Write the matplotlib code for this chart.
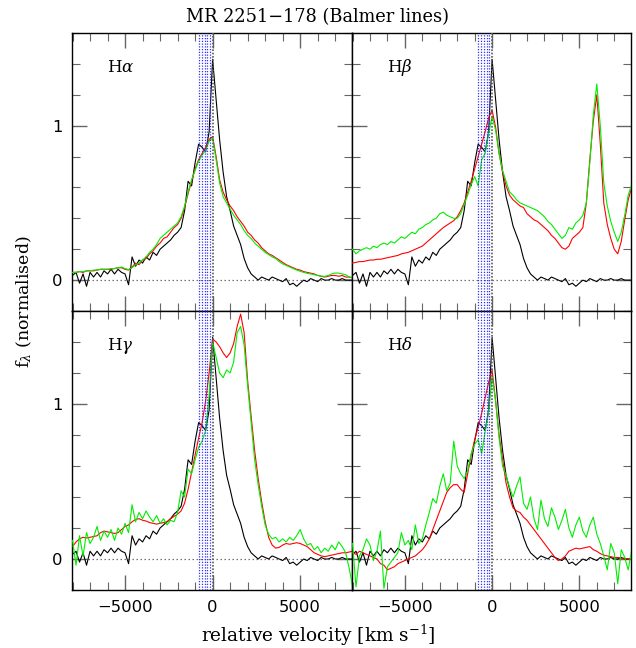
import numpy as np
import matplotlib
matplotlib.use("Agg")
from matplotlib import pyplot as plt
from matplotlib.ticker import MultipleLocator

# velocity grid of the spectra [km/s]
vel = np.arange(-8000, 8001, 200)

# narrow template (same in every panel)
black = [0.03, 0.05, -0.02, 0.04, -0.04, 0.05, 0.02, 0.05, 0.02, 0.06,
         0.04, 0.07, 0.04, 0.07, 0.05, 0.04, -0.03, 0.15, 0.09, 0.13,
         0.11, 0.15, 0.13, 0.18, 0.16, 0.20, 0.22, 0.24, 0.26, 0.29,
         0.31, 0.34, 0.45, 0.64, 0.61, 0.76, 0.88, 0.86, 0.83, 0.96,
         1.43, 1.17, 0.91, 0.70, 0.54, 0.45, 0.35, 0.29, 0.23, 0.14,
         0.08, 0.04, 0.02, 0.00, 0.02, 0.01, 0.00, 0.02, 0.01, 0.00,
         -0.01, 0.01, -0.03, -0.02, -0.04, -0.02, 0.00, -0.01, 0.01, 0.00,
         -0.01, 0.01, 0.00, 0.00, 0.01, 0.00, 0.00, 0.01, 0.00, 0.00,
         0.00]

ha_red = [0.05, 0.05, 0.055, 0.05, 0.06, 0.06, 0.06, 0.065, 0.07, 0.07,
          0.07, 0.07, 0.075, 0.08, 0.08, 0.07, 0.065, 0.085, 0.11, 0.10,
          0.13, 0.14, 0.17, 0.19, 0.22, 0.24, 0.27, 0.28, 0.31, 0.34,
          0.36, 0.40, 0.47, 0.56, 0.64, 0.72, 0.78, 0.82, 0.86, 0.91,
          0.93, 0.80, 0.65, 0.57, 0.52, 0.48, 0.45, 0.41, 0.38, 0.35,
          0.31, 0.29, 0.26, 0.24, 0.21, 0.19, 0.17, 0.16, 0.145, 0.13,
          0.115, 0.10, 0.09, 0.08, 0.07, 0.065, 0.055, 0.05, 0.045, 0.04,
          0.03, 0.025, 0.02, 0.025, 0.03, 0.03, 0.025, 0.03, 0.02, 0.02,
          0.015]
ha_green = [0.05, 0.05, 0.055, 0.055, 0.06, 0.06, 0.065, 0.065, 0.07, 0.07,
            0.07, 0.075, 0.075, 0.08, 0.085, 0.075, 0.068, 0.08, 0.10, 0.11,
            0.13, 0.15, 0.18, 0.20, 0.23, 0.27, 0.29, 0.31, 0.33, 0.35,
            0.37, 0.41, 0.48, 0.57, 0.65, 0.71, 0.77, 0.81, 0.84, 0.90,
            0.92, 0.78, 0.63, 0.54, 0.50, 0.46, 0.42, 0.39, 0.36, 0.32,
            0.29, 0.27, 0.24, 0.22, 0.20, 0.18, 0.165, 0.15, 0.14, 0.12,
            0.105, 0.095, 0.085, 0.075, 0.065, 0.057, 0.05, 0.044, 0.04, 0.035,
            0.03, 0.026, 0.024, 0.03, 0.04, 0.046, 0.045, 0.04, 0.035, 0.02,
            0.015]

hb_red = [0.11, 0.115, 0.12, 0.12, 0.125, 0.13, 0.13, 0.135, 0.135, 0.14,
          0.145, 0.15, 0.155, 0.16, 0.17, 0.175, 0.18, 0.19, 0.20, 0.21,
          0.22, 0.24, 0.26, 0.28, 0.30, 0.32, 0.34, 0.355, 0.37, 0.385,
          0.41, 0.45, 0.50, 0.57, 0.64, 0.72, 0.80, 0.88, 0.96, 1.05,
          1.10, 0.99, 0.82, 0.70, 0.61, 0.55, 0.52, 0.50, 0.48, 0.47,
          0.43, 0.41, 0.39, 0.38, 0.36, 0.34, 0.32, 0.29, 0.27, 0.24,
          0.21, 0.20, 0.22, 0.27, 0.29, 0.31, 0.34, 0.50, 0.78, 1.03,
          1.20, 0.88, 0.50, 0.36, 0.27, 0.20, 0.17, 0.25, 0.39, 0.52,
          0.60]
hb_green = [0.20, 0.17, 0.19, 0.20, 0.21, 0.20, 0.22, 0.21, 0.23, 0.24,
            0.23, 0.25, 0.24, 0.26, 0.28, 0.27, 0.29, 0.31, 0.30, 0.33,
            0.34, 0.36, 0.37, 0.39, 0.40, 0.43, 0.44, 0.42, 0.41, 0.40,
            0.40, 0.43, 0.49, 0.55, 0.62, 0.67, 0.61, 0.78, 0.82, 0.95,
            1.06, 0.97, 0.82, 0.71, 0.64, 0.57, 0.55, 0.52, 0.50, 0.49,
            0.48, 0.47, 0.46, 0.45, 0.43, 0.41, 0.38, 0.36, 0.33, 0.30,
            0.27, 0.29, 0.34, 0.33, 0.37, 0.39, 0.42, 0.50, 0.76, 1.07,
            1.27, 1.00, 0.63, 0.48, 0.38, 0.31, 0.25, 0.31, 0.42, 0.55,
            0.62]

hg_red = [0.08, 0.11, 0.13, 0.14, 0.135, 0.14, 0.145, 0.15, 0.17, 0.18,
          0.175, 0.17, 0.165, 0.17, 0.19, 0.21, 0.22, 0.24, 0.255, 0.26,
          0.25, 0.245, 0.235, 0.23, 0.225, 0.23, 0.235, 0.24, 0.26, 0.275,
          0.29, 0.31, 0.36, 0.45, 0.56, 0.67, 0.78, 0.88, 1.02, 1.20,
          1.42, 1.40, 1.37, 1.33, 1.30, 1.33, 1.39, 1.50, 1.58, 1.46,
          1.15, 0.92, 0.70, 0.52, 0.37, 0.24, 0.14, 0.09, 0.07, 0.075,
          0.09, 0.10, 0.095, 0.10, 0.105, 0.10, 0.09, 0.08, 0.06, 0.04,
          0.03, 0.02, 0.015, 0.02, 0.025, 0.03, 0.035, 0.04, 0.04, 0.045,
          0.05]
hg_green = [0.12, -0.04, 0.15, 0.02, 0.17, 0.10, 0.14, 0.21, 0.12, 0.18,
            0.14, 0.19, 0.12, 0.20, 0.16, 0.23, 0.17, 0.35, 0.24, 0.30,
            0.26, 0.31, 0.27, 0.24, 0.28, 0.23, 0.26, 0.22, 0.25, 0.24,
            0.30, 0.44, 0.40, 0.58, 0.55, 0.64, 0.72, 0.76, 0.83, 1.05,
            1.40, 1.30, 1.20, 1.17, 1.22, 1.20, 1.27, 1.46, 1.50, 1.38,
            1.12, 0.88, 0.64, 0.48, 0.34, 0.22, 0.16, 0.13, 0.14, 0.11,
            0.13, 0.11, 0.14, 0.12, 0.15, 0.19, 0.13, 0.09, 0.10, 0.06,
            0.08, 0.04, 0.07, 0.05, 0.09, 0.06, 0.11, 0.08, 0.04, -0.06,
            -0.18]

hd_red = [0.04, 0.03, 0.05, 0.04, 0.03, 0.02, 0.01, 0.00, -0.03, -0.04,
          -0.07, -0.06, -0.05, -0.03, -0.02, -0.01, 0.00, 0.01, 0.02, 0.04,
          0.06, 0.09, 0.13, 0.19, 0.25, 0.31, 0.37, 0.43, 0.46, 0.48,
          0.48, 0.45, 0.43, 0.55, 0.67, 0.77, 0.85, 0.94, 1.04, 1.14,
          1.22, 1.02, 0.80, 0.64, 0.49, 0.40, 0.33, 0.31, 0.30, 0.27,
          0.25, 0.22, 0.19, 0.16, 0.13, 0.10, 0.07, 0.04, 0.01, -0.01,
          0.00, 0.02, 0.05, 0.06, 0.07, 0.065, 0.07, 0.075, 0.08, 0.06,
          0.05, 0.035, 0.025, 0.02, 0.015, 0.01, 0.01, 0.005, 0.005, 0.00,
          0.00]
hd_green = [0.10, -0.18, 0.02, 0.06, 0.13, 0.09, -0.01, 0.05, 0.18, -0.19,
            -0.05, -0.02, 0.01, 0.04, 0.17, 0.09, 0.12, 0.06, 0.22, 0.10,
            0.13, 0.22, 0.30, 0.39, 0.36, 0.47, 0.55, 0.44, 0.49, 0.76,
            0.60, 0.55, 0.52, 0.57, 0.68, 0.74, 0.77, 0.68, 0.82, 0.95,
            1.18, 1.02, 0.78, 0.60, 0.54, 0.46, 0.40, 0.47, 0.53, 0.36,
            0.32, 0.40, 0.26, 0.19, 0.38, 0.26, 0.21, 0.33, 0.27, 0.19,
            0.25, 0.32, 0.20, 0.14, 0.22, 0.27, 0.18, 0.14, 0.22, 0.27,
            0.16, 0.10, 0.02, -0.07, 0.10, 0.04, -0.16, 0.06, 0.01, -0.07,
            0.06]

# absorption components (blue) and systemic velocity
abs_vel = [-800, -610, -460, -300, -150]

names = [r'H$\alpha$', r'H$\beta$', r'H$\gamma$', r'H$\delta$']
reds = [ha_red, hb_red, hg_red, hd_red]
greens = [ha_green, hb_green, hg_green, hd_green]

plt.rcParams['mathtext.fontset'] = 'dejavuserif'
serif = 'DejaVu Serif'

fig = plt.figure(figsize=(6.36, 6.48), dpi=100)
left = 72 / 636
mid = 352 / 636
right = 631 / 636
top = 1 - 33 / 648
middle = 1 - 311 / 648
bottom = 1 - 590 / 648
boxes = [[left, middle, mid - left, top - middle],
         [mid, middle, right - mid, top - middle],
         [left, bottom, mid - left, middle - bottom],
         [mid, bottom, right - mid, middle - bottom]]

for k in range(4):
    ax = fig.add_axes(boxes[k])
    ax.axhline(0, color='0.45', ls=(0, (1.2, 2.0)), lw=0.9, zorder=1)
    ax.plot(vel, black, color='black', lw=0.8, zorder=2)
    ax.plot(vel, reds[k], color='#ff0000', lw=0.8, zorder=3)
    ax.plot(vel, greens[k], color='#00ee00', lw=0.8, zorder=4)
    for v in abs_vel:
        ax.axvline(v, color='#3030ff', ls=(0, (1.0, 1.2)), lw=0.9, zorder=5)
    ax.axvline(0, color='0.35', ls=(0, (1.0, 1.0)), lw=1.2, zorder=5)
    ax.set_xlim(-8030, 7960)
    ax.set_ylim(-0.2, 1.6)
    ax.xaxis.set_major_locator(MultipleLocator(5000))
    ax.xaxis.set_minor_locator(MultipleLocator(1000))
    ax.yaxis.set_major_locator(MultipleLocator(1))
    ax.yaxis.set_minor_locator(MultipleLocator(0.2))
    ax.tick_params(which='both', direction='in', top=True, right=True,
                   color='0.4', labelsize=11.8, pad=7)
    ax.tick_params(which='major', length=11, width=1.0)
    ax.tick_params(which='minor', length=6, width=0.8)
    for s in ax.spines.values():
        s.set_linewidth(1.0)
    if k % 2 == 1:
        ax.set_yticklabels([])
    if k < 2:
        ax.set_xticklabels([])
    ax.text(0.125, 0.875, names[k], transform=ax.transAxes, fontsize=12,
            family=serif, va='center', ha='left')
    for lab in ax.get_xticklabels() + ax.get_yticklabels():
        lab.set_family('DejaVu Sans')

fig.text(0.5, 1 - 17 / 648, 'MR 2251\u2212178 (Balmer lines)', ha='center',
         va='center', fontsize=12.8, family=serif)
fig.text(0.5, 1 - 635 / 648, r'relative velocity [km s$^{-1}$]', ha='center',
         va='center', fontsize=13.3, family=serif)
fig.text(24 / 636, 1 - 302 / 648, r'f$_\lambda$ (normalised)', ha='center',
         va='center', rotation=90, fontsize=12.5, family=serif)

fig.savefig('out.png', dpi=100)
